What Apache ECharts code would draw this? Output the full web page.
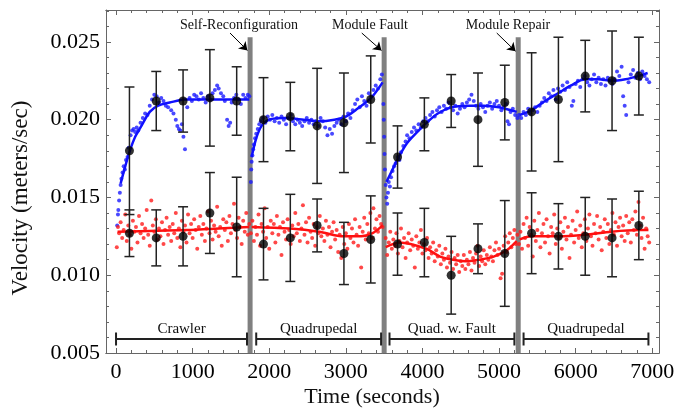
<!DOCTYPE html>
<html>
<head>
<meta charset="utf-8">
<script src="https://cdn.jsdelivr.net/npm/echarts@6/dist/echarts.min.js"></script>
<style>
html, body { margin: 0; padding: 0; background: #fff; }
#chart { width: 679px; height: 409px; }
</style>
</head>
<body>
<div id="chart"></div>
<script>
// averaged points with error bars
var barTimes = [175, 525, 875, 1225, 1575, 1925, 2275, 2625, 2975, 3325, 3675, 4025, 4375, 4725, 5075, 5425, 5775, 6125, 6475, 6825];
var blueMean = [0.0180, 0.0212, 0.0212, 0.0214, 0.0212, 0.0200, 0.0202, 0.0196, 0.0198, 0.0213, 0.0176, 0.0197, 0.0212, 0.0200, 0.0211, 0.0205, 0.0213, 0.0228, 0.0225, 0.0228];
var blueErr = [0.0041, 0.0019, 0.0020, 0.0031, 0.0022, 0.0027, 0.0022, 0.0037, 0.0032, 0.0028, 0.0020, 0.0017, 0.0017, 0.0030, 0.0024, 0.0038, 0.0040, 0.0023, 0.0032, 0.0025];
var redMean = [0.0127, 0.0124, 0.0125, 0.0140, 0.0131, 0.0120, 0.0124, 0.0132, 0.0114, 0.0123, 0.0120, 0.0121, 0.0100, 0.0117, 0.0114, 0.0127, 0.0125, 0.0125, 0.0124, 0.0132];
var redErr = [0.0015, 0.0018, 0.0019, 0.0026, 0.0032, 0.0023, 0.0028, 0.0017, 0.0020, 0.0028, 0.0020, 0.0022, 0.0025, 0.0016, 0.0034, 0.0026, 0.0021, 0.0025, 0.0025, 0.0022];

// fitted curves, one list per phase
var blueFit = [
  [[60, 0.0159], [120, 0.0170], [180, 0.0180], [250, 0.0189], [320, 0.0195], [440, 0.0205], [550, 0.0209], [700, 0.0211], [900, 0.0213], [1200, 0.0213], [1500, 0.0213], [1740, 0.0213]],
  [[1770, 0.0176], [1830, 0.0188], [1900, 0.0196], [2000, 0.0200], [2200, 0.0201], [2450, 0.0200], [2650, 0.0199], [2850, 0.0200], [3000, 0.0202], [3150, 0.0207], [3330, 0.0214], [3480, 0.0224]],
  [[3530, 0.0160], [3600, 0.0167], [3680, 0.0175], [3800, 0.0185], [3950, 0.0193], [4030, 0.0197], [4200, 0.0204], [4380, 0.0208], [4600, 0.0209], [4800, 0.0209], [5000, 0.0208], [5230, 0.0205]],
  [[5270, 0.0203], [5420, 0.0206], [5600, 0.0212], [5770, 0.0217], [5940, 0.0222], [6120, 0.0226], [6300, 0.0226], [6470, 0.0225], [6650, 0.0226], [6814, 0.0228], [6940, 0.0230]]
];
var redFit = [
  [[20, 0.0128], [900, 0.0129], [1740, 0.0131]],
  [[1770, 0.0131], [2270, 0.0130], [2650, 0.0128], [2970, 0.0125], [3200, 0.0125], [3350, 0.0127], [3480, 0.0132]],
  [[3520, 0.0118], [3700, 0.0121], [4050, 0.0117], [4230, 0.0112], [4400, 0.0110], [4600, 0.0109], [4750, 0.0110], [4930, 0.0112], [5100, 0.0116], [5230, 0.0122]],
  [[5270, 0.0123], [5420, 0.0125], [5780, 0.0125], [6120, 0.0126], [6470, 0.0128], [6820, 0.0129], [6950, 0.0129]]
];

// raw velocity samples
var blueRaw = [
  [15, 0.0132], [25, 0.0139], [30, 0.0142], [40, 0.0148], [50, 0.0153], [60, 0.0158], [70, 0.0162], [85, 0.0166], [100, 0.0170], [115, 0.0168], [130, 0.0174], [150, 0.0176], [165, 0.0182], [190, 0.0190], [210, 0.0193], [230, 0.0194], [250, 0.0192], [270, 0.0195], [290, 0.0193], [320, 0.0198], [350, 0.0201], [380, 0.0204], [410, 0.0203], [440, 0.0209], [470, 0.0213], [500, 0.0216], [530, 0.0215], [560, 0.0211], [590, 0.0214], [620, 0.0212], [650, 0.0209], [680, 0.0208], [720, 0.0206], [750, 0.0204], [780, 0.0200], [800, 0.0196], [820, 0.0194], [840, 0.0193], [860, 0.0197], [880, 0.0189], [900, 0.0181], [930, 0.0208], [960, 0.0214], [990, 0.0212], [1020, 0.0216], [1050, 0.0215], [1080, 0.0213], [1110, 0.0217], [1140, 0.0214], [1170, 0.0211], [1200, 0.0215], [1230, 0.0213], [1260, 0.0217], [1290, 0.0219], [1320, 0.0222], [1340, 0.0220], [1370, 0.0217], [1400, 0.0215], [1420, 0.0212], [1450, 0.0200], [1470, 0.0196], [1490, 0.0198], [1510, 0.0211], [1540, 0.0214], [1570, 0.0216], [1600, 0.0213], [1630, 0.0210], [1660, 0.0216], [1690, 0.0214], [1720, 0.0216], [1740, 0.0215],
  [1760, 0.0160], [1765, 0.0168], [1770, 0.0173], [1780, 0.0177], [1790, 0.0181], [1800, 0.0184], [1815, 0.0188], [1830, 0.0191], [1850, 0.0194], [1870, 0.0197], [1890, 0.0199], [1920, 0.0201], [1950, 0.0198], [1980, 0.0202], [2010, 0.0200], [2040, 0.0203], [2070, 0.0199], [2100, 0.0201], [2130, 0.0198], [2160, 0.0202], [2190, 0.0200], [2220, 0.0197], [2250, 0.0201], [2280, 0.0203], [2310, 0.0199], [2340, 0.0197], [2370, 0.0200], [2400, 0.0198], [2430, 0.0196], [2460, 0.0199], [2490, 0.0201], [2520, 0.0198], [2550, 0.0200], [2580, 0.0197], [2610, 0.0199], [2640, 0.0196], [2670, 0.0201], [2700, 0.0199], [2730, 0.0195], [2760, 0.0190], [2790, 0.0194], [2820, 0.0191], [2850, 0.0196], [2880, 0.0198], [2910, 0.0200], [2940, 0.0197], [2970, 0.0202], [3000, 0.0199], [3030, 0.0204], [3060, 0.0201], [3090, 0.0206], [3120, 0.0210], [3150, 0.0213], [3180, 0.0208], [3210, 0.0215], [3240, 0.0212], [3270, 0.0209], [3300, 0.0217], [3330, 0.0215], [3360, 0.0219], [3390, 0.0222], [3420, 0.0220], [3450, 0.0226], [3470, 0.0229],
  [3490, 0.0210], [3495, 0.0200], [3500, 0.0189], [3505, 0.0178], [3510, 0.0168],
  [3520, 0.0158], [3530, 0.0150], [3540, 0.0146], [3550, 0.0153], [3560, 0.0160], [3575, 0.0157], [3590, 0.0163], [3610, 0.0167], [3630, 0.0170], [3650, 0.0172], [3680, 0.0176], [3700, 0.0174], [3720, 0.0179], [3750, 0.0183], [3780, 0.0186], [3800, 0.0190], [3830, 0.0188], [3860, 0.0192], [3890, 0.0195], [3920, 0.0193], [3950, 0.0197], [3980, 0.0195], [4010, 0.0199], [4040, 0.0201], [4070, 0.0199], [4100, 0.0203], [4130, 0.0205], [4160, 0.0202], [4190, 0.0206], [4220, 0.0208], [4250, 0.0205], [4280, 0.0209], [4310, 0.0207], [4340, 0.0211], [4370, 0.0208], [4400, 0.0206], [4430, 0.0209], [4460, 0.0204], [4490, 0.0207], [4520, 0.0210], [4550, 0.0208], [4580, 0.0211], [4610, 0.0213], [4640, 0.0216], [4670, 0.0212], [4700, 0.0209], [4730, 0.0207], [4760, 0.0210], [4790, 0.0208], [4820, 0.0205], [4850, 0.0209], [4880, 0.0211], [4910, 0.0207], [4940, 0.0210], [4970, 0.0212], [5000, 0.0209], [5030, 0.0206], [5060, 0.0208], [5090, 0.0210], [5110, 0.0199], [5130, 0.0197], [5150, 0.0205], [5180, 0.0207], [5210, 0.0203], [5240, 0.0201],
  [5260, 0.0203], [5290, 0.0201], [5320, 0.0205], [5350, 0.0203], [5380, 0.0207], [5410, 0.0204], [5440, 0.0206], [5470, 0.0208], [5500, 0.0205], [5530, 0.0209], [5560, 0.0211], [5590, 0.0214], [5620, 0.0212], [5650, 0.0217], [5680, 0.0215], [5710, 0.0219], [5740, 0.0213], [5770, 0.0220], [5800, 0.0218], [5830, 0.0222], [5860, 0.0219], [5890, 0.0224], [5920, 0.0221], [5950, 0.0209], [5970, 0.0212], [6000, 0.0223], [6030, 0.0225], [6060, 0.0221], [6090, 0.0226], [6120, 0.0228], [6150, 0.0224], [6180, 0.0222], [6210, 0.0226], [6240, 0.0229], [6270, 0.0224], [6300, 0.0227], [6330, 0.0223], [6360, 0.0226], [6390, 0.0222], [6420, 0.0227], [6450, 0.0225], [6480, 0.0223], [6510, 0.0226], [6540, 0.0231], [6570, 0.0228], [6600, 0.0234], [6620, 0.0215], [6640, 0.0209], [6660, 0.0203], [6690, 0.0224], [6720, 0.0229], [6750, 0.0232], [6780, 0.0227], [6810, 0.0230], [6840, 0.0226], [6870, 0.0231], [6900, 0.0228], [6930, 0.0226], [6960, 0.0224]
];
var redRaw = [
  [10, 0.0118], [25, 0.0131], [40, 0.0127], [60, 0.0134], [80, 0.0124], [100, 0.0129], [120, 0.0139], [140, 0.0122], [160, 0.0132], [180, 0.0126], [200, 0.0117], [220, 0.0135], [240, 0.0128], [260, 0.0131], [280, 0.0121], [300, 0.0138], [320, 0.0127], [340, 0.0133], [360, 0.0124], [380, 0.0130], [400, 0.0142], [420, 0.0126], [440, 0.0119], [460, 0.0148], [480, 0.0132], [500, 0.0128], [520, 0.0136], [540, 0.0123], [560, 0.0130], [580, 0.0125], [600, 0.0134], [620, 0.0120], [640, 0.0129], [660, 0.0137], [680, 0.0126], [700, 0.0131], [720, 0.0122], [740, 0.0133], [760, 0.0127], [780, 0.0140], [800, 0.0124], [820, 0.0130], [840, 0.0118], [860, 0.0135], [880, 0.0128], [900, 0.0132], [920, 0.0121], [940, 0.0139], [960, 0.0127], [980, 0.0133], [1000, 0.0124], [1020, 0.0136], [1040, 0.0129], [1060, 0.0117], [1080, 0.0131], [1100, 0.0138], [1120, 0.0126], [1140, 0.0133], [1160, 0.0122], [1180, 0.0130], [1200, 0.0141], [1220, 0.0127], [1240, 0.0135], [1260, 0.0123], [1280, 0.0132], [1300, 0.0128], [1320, 0.0144], [1340, 0.0125], [1360, 0.0131], [1380, 0.0119], [1400, 0.0136], [1420, 0.0129], [1440, 0.0134], [1460, 0.0122], [1480, 0.0138], [1500, 0.0127], [1520, 0.0133], [1540, 0.0146], [1560, 0.0129], [1580, 0.0124], [1600, 0.0137], [1620, 0.0131], [1640, 0.0120], [1660, 0.0135], [1680, 0.0128], [1700, 0.0140], [1720, 0.0126], [1740, 0.0133],
  [1760, 0.0127], [1780, 0.0135], [1800, 0.0122], [1820, 0.0131], [1840, 0.0126], [1860, 0.0139], [1880, 0.0119], [1900, 0.0133], [1920, 0.0128], [1940, 0.0143], [1960, 0.0124], [1980, 0.0131], [2000, 0.0117], [2020, 0.0135], [2040, 0.0127], [2060, 0.0133], [2080, 0.0121], [2100, 0.0138], [2120, 0.0126], [2140, 0.0131], [2160, 0.0113], [2180, 0.0134], [2200, 0.0128], [2220, 0.0123], [2240, 0.0136], [2260, 0.0129], [2280, 0.0120], [2300, 0.0132], [2320, 0.0125], [2340, 0.0140], [2360, 0.0127], [2380, 0.0133], [2400, 0.0122], [2420, 0.0130], [2440, 0.0145], [2460, 0.0126], [2480, 0.0134], [2500, 0.0121], [2520, 0.0137], [2540, 0.0128], [2560, 0.0124], [2580, 0.0133], [2600, 0.0119], [2620, 0.0131], [2640, 0.0127], [2660, 0.0138], [2680, 0.0125], [2700, 0.0130], [2720, 0.0122], [2740, 0.0135], [2760, 0.0126], [2780, 0.0131], [2800, 0.0118], [2820, 0.0128], [2840, 0.0134], [2860, 0.0123], [2880, 0.0129], [2900, 0.0115], [2920, 0.0126], [2940, 0.0111], [2960, 0.0131], [2980, 0.0120], [3000, 0.0127], [3020, 0.0117], [3040, 0.0133], [3060, 0.0124], [3080, 0.0130], [3100, 0.0121], [3120, 0.0136], [3140, 0.0126], [3160, 0.0119], [3180, 0.0131], [3200, 0.0105], [3220, 0.0128], [3240, 0.0137], [3260, 0.0123], [3280, 0.0133], [3300, 0.0127], [3320, 0.0140], [3340, 0.0124], [3360, 0.0143], [3380, 0.0130], [3400, 0.0136], [3420, 0.0128], [3440, 0.0138], [3460, 0.0133], [3480, 0.0131],
  [3520, 0.0124], [3540, 0.0113], [3560, 0.0121], [3580, 0.0128], [3600, 0.0117], [3620, 0.0123], [3640, 0.0119], [3660, 0.0127], [3680, 0.0114], [3700, 0.0122], [3720, 0.0130], [3740, 0.0118], [3760, 0.0124], [3780, 0.0111], [3800, 0.0121], [3820, 0.0127], [3840, 0.0116], [3860, 0.0123], [3880, 0.0119], [3900, 0.0105], [3920, 0.0125], [3940, 0.0117], [3960, 0.0121], [3980, 0.0129], [4000, 0.0114], [4020, 0.0120], [4040, 0.0116], [4060, 0.0124], [4080, 0.0111], [4100, 0.0118], [4120, 0.0114], [4140, 0.0121], [4160, 0.0109], [4180, 0.0116], [4200, 0.0112], [4220, 0.0119], [4240, 0.0107], [4260, 0.0114], [4280, 0.0110], [4300, 0.0117], [4320, 0.0105], [4340, 0.0112], [4360, 0.0108], [4380, 0.0115], [4400, 0.0104], [4420, 0.0111], [4440, 0.0107], [4460, 0.0113], [4480, 0.0102], [4500, 0.0109], [4520, 0.0106], [4540, 0.0113], [4560, 0.0104], [4580, 0.0110], [4600, 0.0107], [4620, 0.0115], [4640, 0.0103], [4660, 0.0111], [4680, 0.0108], [4700, 0.0114], [4720, 0.0119], [4740, 0.0106], [4760, 0.0112], [4780, 0.0109], [4800, 0.0116], [4820, 0.0107], [4840, 0.0113], [4860, 0.0110], [4880, 0.0118], [4900, 0.0112], [4920, 0.0109], [4940, 0.0116], [4960, 0.0121], [4980, 0.0113], [5000, 0.0117], [5020, 0.0098], [5040, 0.0101], [5060, 0.0119], [5080, 0.0125], [5100, 0.0115], [5120, 0.0121], [5140, 0.0127], [5160, 0.0118], [5180, 0.0124], [5200, 0.0129], [5220, 0.0120], [5240, 0.0126],
  [5260, 0.0120], [5280, 0.0128], [5300, 0.0117], [5320, 0.0133], [5340, 0.0124], [5360, 0.0137], [5380, 0.0119], [5400, 0.0131], [5420, 0.0126], [5440, 0.0112], [5460, 0.0135], [5480, 0.0122], [5500, 0.0129], [5520, 0.0140], [5540, 0.0118], [5560, 0.0127], [5580, 0.0133], [5600, 0.0121], [5620, 0.0136], [5640, 0.0125], [5660, 0.0114], [5680, 0.0131], [5700, 0.0127], [5720, 0.0139], [5740, 0.0120], [5760, 0.0130], [5780, 0.0124], [5800, 0.0134], [5820, 0.0117], [5840, 0.0128], [5860, 0.0137], [5880, 0.0123], [5900, 0.0131], [5920, 0.0111], [5940, 0.0126], [5960, 0.0135], [5980, 0.0121], [6000, 0.0129], [6020, 0.0141], [6040, 0.0124], [6060, 0.0132], [6080, 0.0118], [6100, 0.0127], [6120, 0.0136], [6140, 0.0122], [6160, 0.0130], [6180, 0.0139], [6200, 0.0125], [6220, 0.0119], [6240, 0.0133], [6260, 0.0127], [6280, 0.0138], [6300, 0.0123], [6320, 0.0131], [6340, 0.0116], [6360, 0.0128], [6380, 0.0136], [6400, 0.0124], [6420, 0.0133], [6440, 0.0120], [6460, 0.0129], [6480, 0.0140], [6500, 0.0126], [6520, 0.0134], [6540, 0.0119], [6560, 0.0131], [6580, 0.0137], [6600, 0.0125], [6620, 0.0132], [6640, 0.0122], [6660, 0.0138], [6680, 0.0127], [6700, 0.0134], [6720, 0.0121], [6740, 0.0136], [6760, 0.0129], [6780, 0.0141], [6800, 0.0126], [6820, 0.0147], [6840, 0.0132], [6860, 0.0124], [6880, 0.0137], [6900, 0.0117], [6920, 0.0130], [6940, 0.0125], [6960, 0.0121]
];

// events (gray bars) and phases
var eventTimes = [1750, 3500, 5250];
var eventTop = 0.0253;
var phaseNames = ['Crawler', 'Quadrupedal', 'Quad. w. Fault', 'Quadrupedal'];
var phaseStart = [0, 1830, 3570, 5320];
var phaseEnd = [1710, 3460, 5200, 6950];
var phaseLevel = 0.0059;

// annotation arrows
var noteText = ['Self-Reconfiguration', 'Module Fault', 'Module Repair'];
var noteFrom = [[1488, 0.02557], [3208, 0.02557], [4970, 0.02557]];
var noteTo = [[1715, 0.02445], [3465, 0.02445], [5215, 0.02440]];

// x tick labels and minor tick spots
var xTicks = [0, 1000, 2000, 3000, 4000, 5000, 6000, 7000];
var xMinor = [];
for (var m = 200; m < 7000; m += 200) { if (m % 1000 !== 0) xMinor.push(m); }

var serif = 'Liberation Serif';
var ink = '#222';
var frame = '#666';

function errBarData(mean, err) {
  return barTimes.map(function (t, i) { return [t, mean[i] - err[i], mean[i] + err[i]]; });
}

function renderErrBar(params, api) {
  var t = api.value(0);
  var lo = api.coord([t, api.value(1)]);
  var hi = api.coord([t, api.value(2)]);
  var w = 5;
  var st = { stroke: ink, lineWidth: 1.5 };
  return {
    type: 'group',
    children: [
      { type: 'line', shape: { x1: hi[0], y1: hi[1], x2: lo[0], y2: lo[1] }, style: st },
      { type: 'line', shape: { x1: hi[0] - w, y1: hi[1], x2: hi[0] + w, y2: hi[1] }, style: st },
      { type: 'line', shape: { x1: lo[0] - w, y1: lo[1], x2: lo[0] + w, y2: lo[1] }, style: st }
    ]
  };
}

function renderEvent(params, api) {
  var cs = params.coordSys;
  var top = api.coord([api.value(0), eventTop]);
  return {
    type: 'rect',
    shape: { x: top[0] - 2.5, y: top[1], width: 5, height: cs.y + cs.height - top[1] },
    style: { fill: '#808080' }
  };
}

function renderPhase(params, api) {
  var a = api.coord([api.value(0), api.value(2)]);
  var b = api.coord([api.value(1), api.value(2)]);
  var h = 6.5;
  var st = { stroke: ink, lineWidth: 2 };
  return {
    type: 'group',
    children: [
      { type: 'line', shape: { x1: a[0], y1: a[1], x2: b[0], y2: b[1] }, style: st },
      { type: 'line', shape: { x1: a[0], y1: a[1] - h, x2: a[0], y2: a[1] + h }, style: st },
      { type: 'line', shape: { x1: b[0], y1: b[1] - h, x2: b[0], y2: b[1] + h }, style: st },
      {
        type: 'text', x: (a[0] + b[0]) / 2, y: a[1] - 10,
        style: { text: phaseNames[params.dataIndex], fill: '#111', fontFamily: serif, fontSize: 15, align: 'center', verticalAlign: 'middle' }
      }
    ]
  };
}

function fitSeries(segs, color) {
  return segs.map(function (seg) {
    return {
      type: 'line', data: seg, smooth: 0.3, showSymbol: false, z: 3,
      lineStyle: { color: color, width: 2.5 }, silent: true
    };
  });
}

var tickStyle = { color: frame, width: 1 };
// x axes: grid spans the whole frame, ticks placed through customValues
function xAxisCfg(pos, values, len, labels) {
  return {
    type: 'value', position: pos, min: -131, max: 7088,
    axisLine: { show: true, onZero: false, lineStyle: { color: frame, width: 1 } },
    axisTick: { show: true, inside: true, length: len, customValues: values, lineStyle: tickStyle },
    splitLine: { show: false },
    axisLabel: {
      show: labels, customValues: values, color: '#000', fontFamily: serif, fontSize: 22, margin: 8,
      formatter: function (v) { return String(v); }
    }
  };
}
function yAxisCfg(pos, labels) {
  return {
    type: 'value', position: pos, min: 0.005, max: 0.02705, interval: 0.005,
    axisLine: { show: true, onZero: false, lineStyle: { color: frame, width: 1 } },
    axisTick: { show: true, inside: true, length: 5, lineStyle: tickStyle },
    minorTick: { show: true, splitNumber: 5, length: 3, lineStyle: tickStyle },
    splitLine: { show: false },
    axisLabel: {
      show: labels, color: '#000', fontFamily: serif, fontSize: 22, margin: 6, showMaxLabel: false,
      formatter: function (v) { return v.toFixed(3); }
    }
  };
}

var series = [
  { type: 'custom', renderItem: renderEvent, data: eventTimes.map(function (t) { return [t]; }), z: 1, silent: true },
  { type: 'scatter', data: blueRaw, symbolSize: 4, itemStyle: { color: '#1a1aff' }, z: 2, silent: true },
  { type: 'scatter', data: redRaw, symbolSize: 4, itemStyle: { color: '#ff1a1a' }, z: 2, silent: true }
]
  .concat(fitSeries(blueFit, '#1010ff'))
  .concat(fitSeries(redFit, '#ff1010'))
  .concat([
    { type: 'custom', renderItem: renderErrBar, data: errBarData(blueMean, blueErr), encode: { x: 0, y: [1, 2] }, z: 4, silent: true },
    { type: 'custom', renderItem: renderErrBar, data: errBarData(redMean, redErr), encode: { x: 0, y: [1, 2] }, z: 4, silent: true },
    {
      type: 'scatter', z: 5, symbolSize: 9, itemStyle: { color: '#000' }, silent: true,
      data: barTimes.map(function (t, i) { return [t, blueMean[i]]; }).concat(barTimes.map(function (t, i) { return [t, redMean[i]]; })),
      markLine: {
        silent: true, symbol: ['none', 'arrow'], symbolSize: 8,
        lineStyle: { color: '#000', width: 1, type: 'solid' },
        label: { show: false },
        data: noteFrom.map(function (f, i) { return [{ coord: f }, { coord: noteTo[i] }]; })
      }
    },
    {
      type: 'custom', renderItem: renderPhase, z: 4, silent: true,
      data: phaseStart.map(function (s, i) { return [s, phaseEnd[i], phaseLevel]; }),
      encode: { x: [0, 1], y: 2 }
    }
  ]);

var chart = echarts.init(document.getElementById('chart'));
chart.setOption({
  animation: false,
  backgroundColor: '#fff',
  grid: { left: 106, right: 20, top: 10, bottom: 56, containLabel: false, outerBoundsMode: 'none' },
  xAxis: [
    xAxisCfg('bottom', xTicks, 5, true),
    xAxisCfg('top', xTicks, 5, false),
    xAxisCfg('bottom', xMinor, 3, false),
    xAxisCfg('top', xMinor, 3, false)
  ],
  yAxis: [yAxisCfg('left', true), yAxisCfg('right', false)],
  graphic: [
    { type: 'text', x: 239, y: 25, style: { text: noteText[0], fontFamily: serif, fontSize: 14, fill: '#111', align: 'center', verticalAlign: 'middle' } },
    { type: 'text', x: 370, y: 25, style: { text: noteText[1], fontFamily: serif, fontSize: 14, fill: '#111', align: 'center', verticalAlign: 'middle' } },
    { type: 'text', x: 508, y: 25, style: { text: noteText[2], fontFamily: serif, fontSize: 14, fill: '#111', align: 'center', verticalAlign: 'middle' } },
    { type: 'text', x: 372, y: 397, style: { text: 'Time (seconds)', fontFamily: serif, fontSize: 22, fill: '#111', align: 'center', verticalAlign: 'middle' } },
    { type: 'text', x: 21, y: 198, rotation: Math.PI / 2, style: { text: 'Velocity (meters/sec)', fontFamily: serif, fontSize: 23, fill: '#111', align: 'center', verticalAlign: 'middle' } }
  ],
  series: series
});
</script>
</body>
</html>
